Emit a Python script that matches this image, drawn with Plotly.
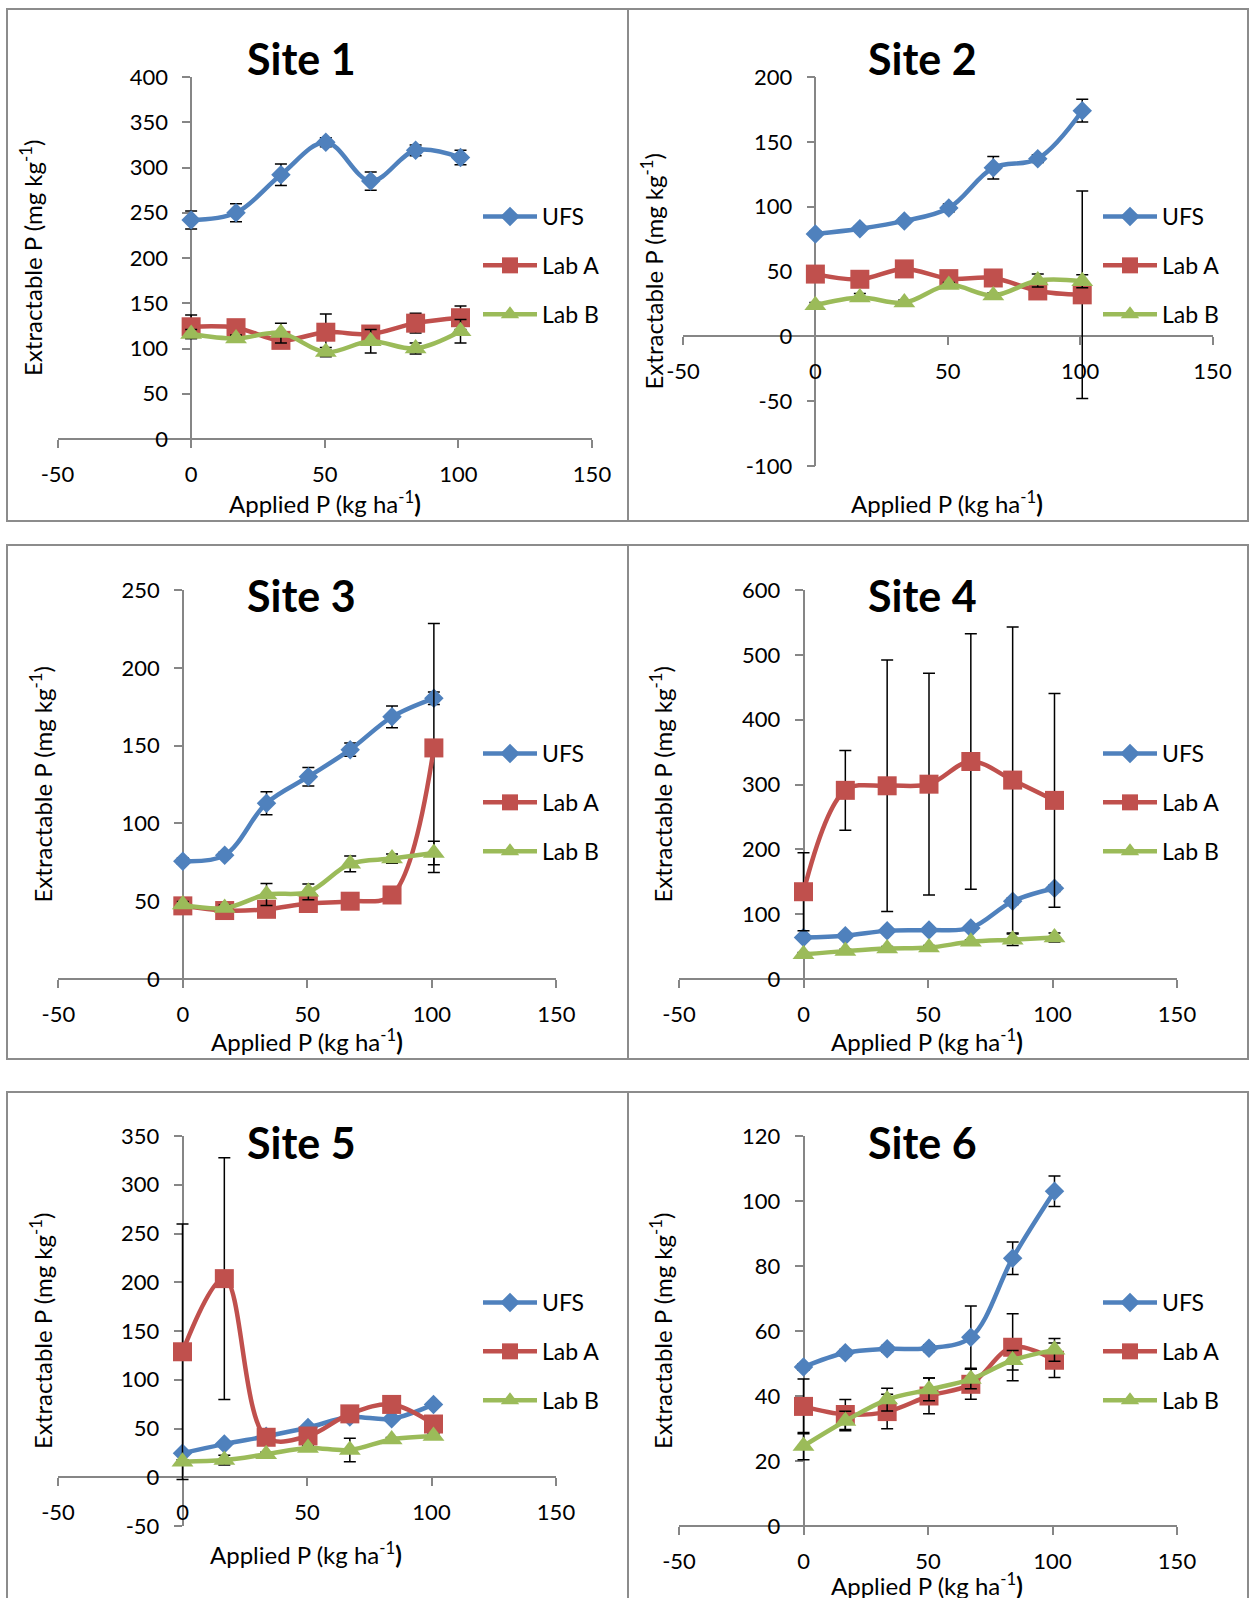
import plotly.graph_objects as go

W, H = 1250, 1598

# ---- data -----------------------------------------------------------------
applied_p = [0, 16.8, 33.6, 50.4, 67.2, 84.0, 100.8]
series_names = ["UFS", "Lab A", "Lab B"]
site_titles = ["Site 1", "Site 2", "Site 3", "Site 4", "Site 5", "Site 6"]

x_tick_vals = [-50, 0, 50, 100, 150]
x_tick_text = ["-50", "0", "50", "100", "150"]

site1_ufs = [242, 250, 292, 328, 285, 319, 311]
site1_ufs_err = [10, 10, 12, 5, 10, 6, 8]
site1_laba = [124, 123, 109, 118, 116, 128, 134]
site1_laba_err = [13, 6, 6, 20, 6, 11, 13]
site1_labb = [116, 111, 117, 96, 108, 100, 119]
site1_labb_err = [5, 4, 11, 5, 13, 6, 13]
site1_y_ticks = [0, 50, 100, 150, 200, 250, 300, 350, 400]

site2_ufs = [79, 83, 89, 99, 130, 137, 174]
site2_ufs_err = [2, 2, 2, 3, 8.6, 3, 8.8]
site2_laba = [48, 44, 52, 44.5, 45, 35, 32]
site2_laba_err = [3, 3, 3, 3, 3, 3, 80]
site2_labb = [24, 30, 26, 39.5, 31.5, 43, 42.5]
site2_labb_err = [2, 3, 2, 2, 2, 5, 5]
site2_y_ticks = [-100, -50, 0, 50, 100, 150, 200]

site3_ufs = [75.7, 79.6, 113, 130, 147.4, 168.5, 180.4]
site3_ufs_err = [2, 2, 7.4, 6, 4.3, 7, 4]
site3_laba = [47, 44, 44.8, 48.5, 50, 54, 148.5]
site3_laba_err = [2, 2, 2, 2, 2, 2, 80]
site3_labb = [47.8, 45.6, 54.3, 56, 74, 77.4, 81]
site3_labb_err = [2, 2, 7, 5, 5, 3, 7.6]
site3_y_ticks = [0, 50, 100, 150, 200, 250]

site4_ufs = [64, 66.8, 74.6, 75.6, 78.8, 120, 140]
site4_ufs_err = [3, 3, 3, 3, 3, 5, 5]
site4_laba = [134.6, 291, 298, 300.5, 335.5, 306.8, 275.5]
site4_laba_err = [60, 61.5, 194, 171, 197, 236, 165]
site4_labb = [38, 43, 47, 48.5, 57.4, 60.5, 64]
site4_labb_err = [3, 3, 3, 3, 3, 9, 7]
site4_y_ticks = [0, 100, 200, 300, 400, 500, 600]

site5_ufs = [24.7, 34, 42, 51, 61.7, 60, 74.7]
site5_ufs_err = [2, 2, 2, 2, 2, 2, 2]
site5_laba = [128.7, 203.7, 41, 42.3, 65, 74.7, 54.6]
site5_laba_err = [131, 124, 3, 3, 3, 3, 3]
site5_labb = [16, 17.6, 23.6, 30, 28, 38.8, 42.3]
site5_labb_err = [2, 5, 2, 2, 12, 2, 2]
site5_y_ticks = [-50, 0, 50, 100, 150, 200, 250, 300, 350]

site6_ufs = [48.9, 53.3, 54.5, 54.7, 58.1, 82.4, 103]
site6_ufs_err = [1, 1, 1, 1, 9.6, 5, 4.7]
site6_laba = [36.8, 34.3, 35.2, 40, 43.6, 55, 51]
site6_laba_err = [8.4, 4.6, 5.3, 5.5, 4.6, 10.3, 5.3]
site6_labb = [24.6, 32.3, 38.9, 42, 45.2, 51, 54.2]
site6_labb_err = [4.2, 3, 3.5, 3.5, 3, 3, 3.5]
site6_y_ticks = [0, 20, 40, 60, 80, 100, 120]

site_values = [
    (site1_ufs, site1_laba, site1_labb),
    (site2_ufs, site2_laba, site2_labb),
    (site3_ufs, site3_laba, site3_labb),
    (site4_ufs, site4_laba, site4_labb),
    (site5_ufs, site5_laba, site5_labb),
    (site6_ufs, site6_laba, site6_labb),
]
site_errors = [
    (site1_ufs_err, site1_laba_err, site1_labb_err),
    (site2_ufs_err, site2_laba_err, site2_labb_err),
    (site3_ufs_err, site3_laba_err, site3_labb_err),
    (site4_ufs_err, site4_laba_err, site4_labb_err),
    (site5_ufs_err, site5_laba_err, site5_labb_err),
    (site6_ufs_err, site6_laba_err, site6_labb_err),
]
site_y_ticks = [site1_y_ticks, site2_y_ticks, site3_y_ticks,
                site4_y_ticks, site5_y_ticks, site6_y_ticks]

# ---- styling / geometry (pixels) --------------------------------------------
FONT = "Lato"
AXIS_GREY = "#868686"
colors = ["#4F81BD", "#C0504D", "#9BBB59"]
symbols = ["diamond", "square", "triangle-up"]
marker_sizes = [15, 19, 19]

# plot areas: left, right, top, bottom
areas = [
    (57.5, 592.0, 77, 439),
    (683.0, 1212.5, 77, 466),
    (58.3, 556.4, 590, 979),
    (679.0, 1177.0, 590, 979),
    (58.0, 556.0, 1136, 1526),
    (679.0, 1177.0, 1136, 1526),
]
title_pos = [(301, 58), (922, 58), (301, 596), (922, 596), (301, 1142), (922, 1142)]
ytitle_pos = [(31, 258), (651, 271.5), (41, 784.5), (661, 784.5), (41, 1331), (661, 1331)]
xtitle_pos = [(325, 502), (947, 502), (307, 1040), (927, 1040), (306, 1553), (927, 1584)]
legend_pos = [(478, 216), (1098, 216), (478, 753), (1098, 753), (478, 1302), (1098, 1302)]
frames = [
    (7, 628, 9, 521), (628, 1248, 9, 521),
    (7, 628, 545, 1059), (628, 1248, 545, 1059),
    (7, 628, 1092, 1640), (628, 1248, 1092, 1640),
]


def fx(px):
    return px / W


def fy(py):
    return 1 - py / H


fig = go.Figure()
layout = dict(
    width=W, height=H,
    margin=dict(l=0, r=0, t=0, b=0, autoexpand=False),
    paper_bgcolor="white", plot_bgcolor="rgba(0,0,0,0)",
    font=dict(family=FONT, color="black"),
    showlegend=True,
    annotations=[], shapes=[],
)

for i in range(6):
    n = "" if i == 0 else str(i + 1)
    left, right, top, bottom = areas[i]
    ticks = site_y_ticks[i]
    ylo, yhi = ticks[0], ticks[-1]
    xlo, xhi = x_tick_vals[0], x_tick_vals[-1]

    # axes cross at zero, as in the worksheet charts
    x_zero_px = left + (0 - xlo) / (xhi - xlo) * (right - left)
    y_zero_px = bottom - (0 - ylo) / (yhi - ylo) * (bottom - top)

    layout["xaxis" + n] = dict(
        domain=[fx(left), fx(right)], range=[xlo, xhi],
        anchor="free", position=fy(y_zero_px), side="bottom",
        tickvals=x_tick_vals, ticktext=x_tick_text,
        ticks="outside", ticklen=8, tickwidth=1.5, tickcolor=AXIS_GREY,
        showline=True, linecolor=AXIS_GREY, linewidth=1.5,
        showgrid=False, zeroline=False, layer="below traces",
        tickfont=dict(size=22, family=FONT, color="black"),
        ticklabelstandoff=8, fixedrange=True, automargin=False,
    )
    layout["yaxis" + n] = dict(
        domain=[fy(bottom), fy(top)], range=[ylo, yhi],
        anchor="free", position=fx(x_zero_px), side="left",
        tickvals=ticks, ticktext=[str(t) for t in ticks],
        ticks="outside", ticklen=8, tickwidth=1.5, tickcolor=AXIS_GREY,
        showline=True, linecolor=AXIS_GREY, linewidth=1.5,
        showgrid=False, zeroline=False, layer="below traces",
        tickfont=dict(size=22, family=FONT, color="black"),
        ticklabelstandoff=10, fixedrange=True, automargin=False,
    )

    lx, lcy = legend_pos[i]
    layout["legend" + n] = dict(
        x=fx(lx), y=fy(lcy - 21), xanchor="left", yanchor="top",
        bgcolor="rgba(0,0,0,0)", borderwidth=0,
        font=dict(size=23, family=FONT, color="black"),
        traceorder="grouped", tracegroupgap=16, itemwidth=54,
    )

    for k in range(3):
        fig.add_trace(go.Scatter(
            x=applied_p, y=site_values[i][k],
            name=series_names[k],
            mode="lines+markers",
            line=dict(color=colors[k], width=4.5, shape="spline", smoothing=1),
            marker=dict(symbol=symbols[k], size=marker_sizes[k], color=colors[k],
                        line=dict(width=0)),
            error_y=dict(type="data", array=site_errors[i][k], visible=True,
                         color="black", thickness=1.5, width=6),
            xaxis="x" + n, yaxis="y" + n,
            legend="legend" + n, legendgroup=f"{i}-{k}",
            cliponaxis=False,
        ))

    tx, ty = title_pos[i]
    layout["annotations"].append(dict(
        text=f"<b>{site_titles[i]}</b>", x=fx(tx), y=fy(ty),
        xref="paper", yref="paper", xanchor="center", yanchor="middle",
        showarrow=False, font=dict(size=43, family=FONT, color="black"),
    ))
    yx, yy = ytitle_pos[i]
    layout["annotations"].append(dict(
        text="Extractable P (mg kg<sup>-1</sup>)", x=fx(yx), y=fy(yy),
        xref="paper", yref="paper", xanchor="center", yanchor="middle",
        textangle=-90, showarrow=False,
        font=dict(size=24, family=FONT, color="black"),
    ))
    xx, xy = xtitle_pos[i]
    layout["annotations"].append(dict(
        text="Applied P (kg ha<sup>-1</sup><b>)</b>", x=fx(xx), y=fy(xy),
        xref="paper", yref="paper", xanchor="center", yanchor="middle",
        showarrow=False, font=dict(size=24, family=FONT, color="black"),
    ))

    fl, fr, ft, fb = frames[i]
    layout["shapes"].append(dict(
        type="rect", xref="paper", yref="paper",
        x0=fx(fl), x1=fx(fr), y0=fy(fb), y1=fy(ft),
        line=dict(color="#8c8c8c", width=2), fillcolor="rgba(0,0,0,0)",
        layer="below",
    ))

fig.update_layout(**layout)
fig.write_html("out.html")
